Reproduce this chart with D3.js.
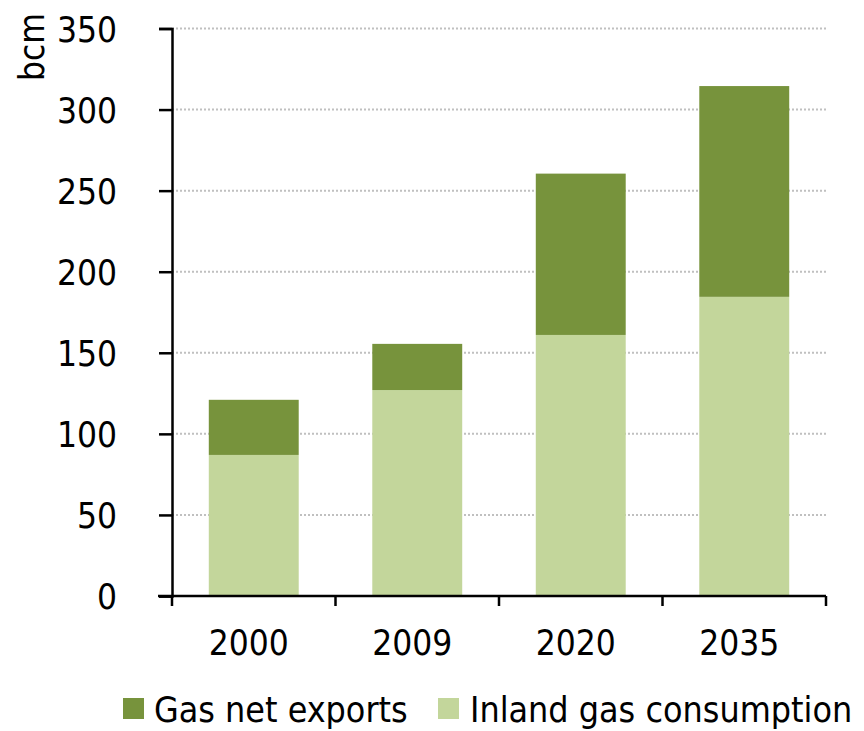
<!DOCTYPE html>
<html>
<head>
<meta charset="utf-8">
<script src="https://cdn.jsdelivr.net/npm/d3@7"></script>
<style>
  body { margin: 0; background: #fff; }
  text { font-family: "DejaVu Sans Condensed", "DejaVu Sans", sans-serif; fill: #000; }
</style>
</head>
<body>
<script>
var years = ["2000", "2009", "2020", "2035"];
var inland = [87, 127, 161, 184.5];
var exports = [34, 28.5, 99.5, 130];
var yTicks = [0, 50, 100, 150, 200, 250, 300, 350];
var seriesNames = ["Gas net exports", "Inland gas consumption"];
var colors = { inland: "#c3d69b", exports: "#77933c" };

var margin = { top: 28.5, right: 38, bottom: 135, left: 172 };
var width = 864 - margin.left - margin.right;
var height = 731 - margin.top - margin.bottom;

var svg = d3.select("body").append("svg")
  .attr("width", 864)
  .attr("height", 731);

var g = svg.append("g")
  .attr("transform", "translate(" + margin.left + "," + margin.top + ")");

var x = d3.scaleBand().domain(years).range([0, width]).paddingInner(0.45).paddingOuter(0.225);
var y = d3.scaleLinear().domain([0, 350]).range([height, 0]);

// dotted gridlines
g.selectAll(".grid").data(yTicks.slice(1)).enter().append("line")
  .attr("x1", 0).attr("x2", width)
  .attr("y1", d => y(d)).attr("y2", d => y(d))
  .attr("stroke", "#c0c0c0").attr("stroke-width", 2)
  .attr("stroke-dasharray", "2,2");

var data = years.map((yr, i) => ({ year: yr, inland: inland[i], exports: exports[i] }));
var stack = d3.stack().keys(["inland", "exports"])(data);

g.selectAll(".layer").data(stack).enter().append("g")
  .attr("fill", d => colors[d.key])
  .selectAll("rect").data(d => d).enter().append("rect")
  .attr("x", d => x(d.data.year))
  .attr("width", x.bandwidth())
  .attr("y", d => y(d[1]))
  .attr("height", d => y(d[0]) - y(d[1]));

// y axis
var yAxis = g.append("g")
  .call(d3.axisLeft(y).tickValues(yTicks).tickSize(13).tickPadding(42));
yAxis.select(".domain").attr("stroke-width", 2.5);
yAxis.selectAll(".tick line").attr("stroke-width", 2.5);
yAxis.selectAll("text").style("font-size", "35px").attr("dy", "0.36em");

// x axis: ticks at category boundaries
var xAxis = g.append("g").attr("transform", "translate(0," + height + ")");
xAxis.append("line").attr("x1", -14).attr("x2", width)
  .attr("stroke", "#000").attr("stroke-width", 2.5);
var step = x.step();
xAxis.selectAll(".xt").data(d3.range(years.length + 1)).enter().append("line")
  .attr("x1", i => i * step).attr("x2", i => i * step)
  .attr("y1", 0).attr("y2", 10)
  .attr("stroke", "#000").attr("stroke-width", 2.5);
xAxis.selectAll(".xl").data(years).enter().append("text")
  .attr("x", d => x(d) + x.bandwidth() / 2 - 5)
  .attr("y", 59)
  .attr("text-anchor", "middle")
  .style("font-size", "35px")
  .text(d => d);

// unit label
svg.append("text")
  .attr("transform", "translate(44,47) rotate(-90)")
  .attr("text-anchor", "middle")
  .style("font-size", "35px")
  .text("bcm");

// legend
var legend = svg.append("g");
var legItems = [
  { name: seriesNames[0], color: colors.exports, x: 123, gap: 31 },
  { name: seriesNames[1], color: colors.inland, x: 438, gap: 32 }
];
legItems.forEach(it => {
  legend.append("rect").attr("x", it.x).attr("y", 698).attr("width", 21).attr("height", 21).attr("fill", it.color);
  legend.append("text").attr("x", it.x + it.gap).attr("y", 722).style("font-size", "35.5px").text(it.name);
});
</script>
</body>
</html>
